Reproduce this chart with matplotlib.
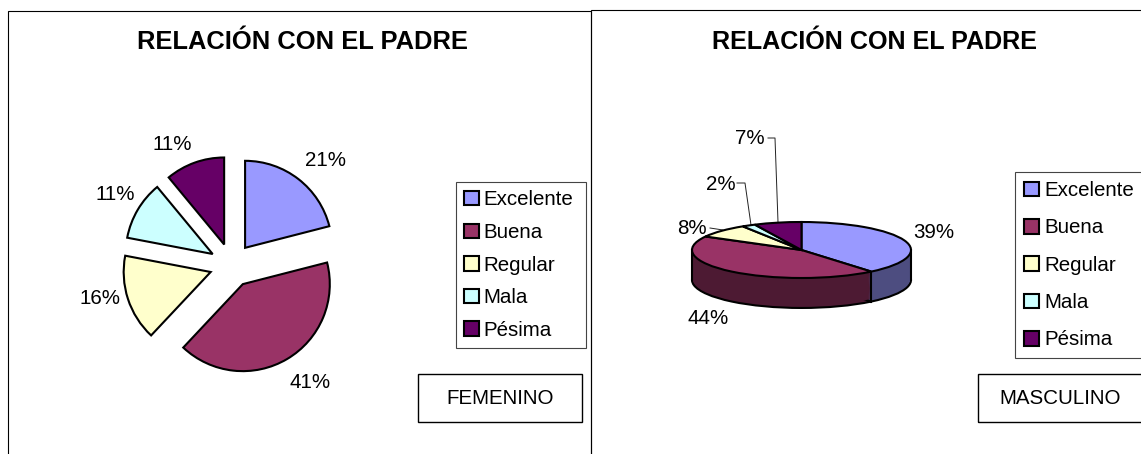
import numpy as np
import matplotlib
matplotlib.use("Agg")
import matplotlib.pyplot as plt
from matplotlib.patches import Rectangle

plt.rcParams['font.family'] = ['Liberation Sans', 'DejaVu Sans']

TITLE = "RELACIÓN CON EL PADRE"
categories = ["Excelente", "Buena", "Regular", "Mala", "Pésima"]
femenino = [21, 41, 16, 11, 11]
masculino = [39, 44, 8, 2, 7]
colors = ["#9999FF", "#993366", "#FFFFCC", "#CCFFFF", "#660066"]
dark_colors = ["#4D4D80", "#4D1A33", "#808066", "#668080", "#330033"]

W, H = 1141, 454
FS = 14.76
fig = plt.figure(figsize=(W / 100, H / 100), dpi=100, facecolor="white")
ax = fig.add_axes([0, 0, 1, 1])
ax.set_xlim(0, W)
ax.set_ylim(0, H)


def Y(y):
    return H - y


edge = dict(edgecolor="black", linewidth=1.5)

# panel frames
ax.add_patch(Rectangle((8, -20), 583, Y(11) + 20, fill=False, edgecolor="black", linewidth=0.8))
ax.add_patch(Rectangle((591, -20), 600, Y(10) + 20, fill=False, edgecolor="black", linewidth=0.8))

ax.text(302, Y(42), TITLE, fontsize=18.4, fontweight="bold", ha="center", va="center")
ax.text(874, Y(42), TITLE, fontsize=18.05, fontweight="bold", ha="center", va="center")

# left pie
wl, _, atl = ax.pie(femenino, colors=colors, startangle=90, counterclock=False,
                    explode=[22] * 5, radius=87, center=(231.6, Y(265.2)),
                    frame=True, wedgeprops=edge, autopct="%.0f%%",
                    textprops=dict(fontsize=FS))
pos_l = [(325, 160), (310, 382), (100, 299), (115, 195), (172, 144)]
for t, (x, y) in zip(atl, pos_l):
    t.set_position((x, Y(y)))
    t.set_ha("center")
    t.set_va("center")

# right pie, tilted: an axes stretched over the ellipse's box
ax2 = fig.add_axes([692 / W, Y(278) / H, 219 / W, 56 / H])
depth = 1.07
kw = dict(colors=dark_colors, startangle=90, counterclock=False, frame=True)
ax2.pie(masculino, center=(0, -depth), wedgeprops=edge, **kw)
for d in np.linspace(depth - 0.09, 0, 30):
    ax2.pie(masculino, center=(0, -d), wedgeprops=dict(linewidth=0), **kw)
# wall's vertical edges
bound = np.deg2rad(90 - 360 * masculino[0] / sum(masculino))
for xv, yv in [(-1, 0), (1, 0), (np.cos(bound), np.sin(bound))]:
    ax2.plot([xv, xv], [yv, yv - depth], color="black", lw=1.5, clip_on=False, zorder=5)
wr, _, atr = ax2.pie(masculino, colors=colors, startangle=90, counterclock=False, frame=True,
                     wedgeprops=edge, autopct="%.0f%%", textprops=dict(fontsize=FS))
for w in wr:
    w.set_zorder(6)
ax2.set_aspect("auto")
ax2.set_xlim(-1, 1)
ax2.set_ylim(-1, 1)
ax2.axis("off")
ax2.patch.set_alpha(0)
pos_r = [(934, 232), (708, 319), (692, 229), (721, 184), (750, 139)]
for t, (x, y) in zip(atr, pos_r):
    t.set_transform(ax.transData)
    t.set_position((x, Y(y)))
    t.set_ha("center")
    t.set_va("center")
    t.set_zorder(10)

# leader lines
leaders = [[(768, 138), (775, 138), (778, 222)],
           [(737, 183), (745, 183), (751, 225)],
           [(710, 228), (723, 230)]]
for pts in leaders:
    xs, ys = zip(*pts)
    ax.plot(xs, [Y(v) for v in ys], color="#222222", lw=0.7)

# legends
leg1 = ax.legend(wl, categories, loc="lower left", bbox_to_anchor=(455.5, Y(348), 130.5, 165),
                 bbox_transform=ax.transData, borderaxespad=0, mode="expand", fontsize=FS,
                 handlelength=0.73, handleheight=0.7, handletextpad=0.22, labelspacing=0.665,
                 borderpad=0.4, fancybox=False, edgecolor="#444444", framealpha=1)
leg1.get_frame().set_linewidth(0.8)
ax.add_artist(leg1)
leg2 = ax.legend(wr, categories, loc="lower left", bbox_to_anchor=(1015, Y(358), 150, 186),
                 bbox_transform=ax.transData, borderaxespad=0, mode="expand", fontsize=FS,
                 handlelength=0.75, handleheight=0.72, handletextpad=0.25, labelspacing=0.894,
                 borderpad=0.42, fancybox=False, edgecolor="#444444", framealpha=1)
leg2.get_frame().set_linewidth(0.8)

# group boxes
for x0, x1, label, xc in [(418, 582, "FEMENINO", 500), (978, 1200, "MASCULINO", 1060)]:
    ax.add_patch(Rectangle((x0, Y(422)), x1 - x0, 48, fill=False, edgecolor="black", linewidth=1.0))
    ax.text(xc, Y(398.5), label, fontsize=FS, ha="center", va="center")

ax.axis("off")
ax.set_aspect("auto")
fig.savefig("out.png", dpi=100)
